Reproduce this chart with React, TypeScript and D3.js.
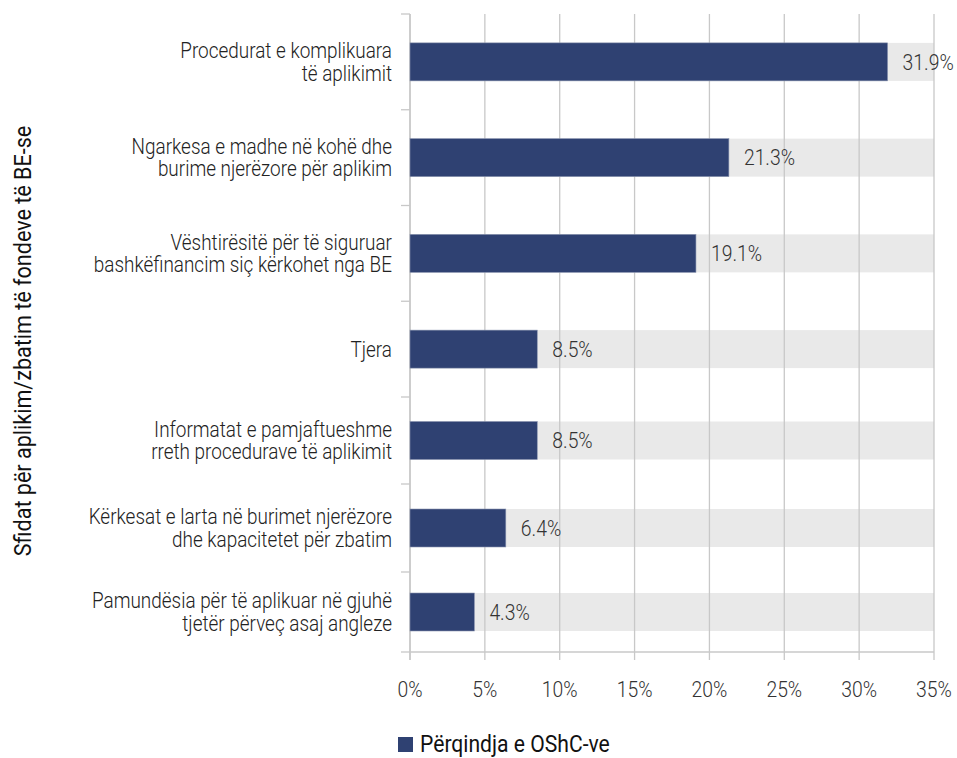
import React from "react";
import * as d3 from "d3";

const categories: string[][] = [
  ["Procedurat e komplikuara", "të aplikimit"],
  ["Ngarkesa e madhe në kohë dhe", "burime njerëzore për aplikim"],
  ["Vështirësitë për të siguruar", "bashkëfinancim siç kërkohet nga BE"],
  ["Tjera"],
  ["Informatat e pamjaftueshme", "rreth procedurave të aplikimit"],
  ["Kërkesat e larta në burimet njerëzore", "dhe kapacitetet për zbatim"],
  ["Pamundësia për të aplikuar në gjuhë", "tjetër përveç asaj angleze"],
];
const values: number[] = [31.9, 21.3, 19.1, 8.5, 8.5, 6.4, 4.3];
const xTicks: number[] = [0, 5, 10, 15, 20, 25, 30, 35];
const yTitle = "Sfidat për aplikim/zbatim të fondeve të BE-se";
const legendLabel = "Përqindja e OShC-ve";

const W = 957;
const H = 758;
const FONT = "Roboto, sans-serif";
const BAR = "#2f4172";
const SX = 0.88;

function T(props: {
  x: number;
  y: number;
  size: number;
  anchor?: string;
  weight?: number;
  fill?: string;
  rotate?: number;
  children: React.ReactNode;
}) {
  const { x, y, size, anchor = "start", weight = 300, fill = "#222", rotate = 0, children } = props;
  return (
    <g transform={`translate(${x},${y}) rotate(${rotate}) scale(${SX},1)`}>
      <text x={0} y={0} dy="0.35em" fontSize={size} fontWeight={weight} fill={fill} textAnchor={anchor}>
        {children}
      </text>
    </g>
  );
}

export default function App() {
  const x = d3.scaleLinear().domain([0, 35]).range([410, 934]);
  // band boundaries (index -> y)
  const yb = d3.scaleLinear().domain([0, 4, 5, 6, 7]).range([14, 397, 484, 572, 652]);
  const barH = 38;
  const lineH = 22.5;
  const y0 = yb(0);
  const y1 = yb(7);

  return (
    <svg width={W} height={H} style={{ position: "absolute", left: 0, top: 0, fontFamily: FONT }}>
      <rect width={W} height={H} fill="#fff" />
      {/* background bars */}
      {values.map((v, i) => {
        const c = (yb(i) + yb(i + 1)) / 2;
        return <rect key={"bg" + i} x={x(0)} y={c - barH / 2} width={x(35) - x(0)} height={barH} fill="#e9e9e9" />;
      })}
      {/* gridlines */}
      {xTicks.map((t) => (
        <line key={"g" + t} x1={x(t)} x2={x(t)} y1={y0} y2={y1 + 8} stroke="#c8c8c8" strokeWidth={1.3} />
      ))}
      {/* axes */}
      <line x1={x(0)} x2={x(0)} y1={y0} y2={y1 + 8} stroke="#c8c8c8" strokeWidth={1.5} />
      <line x1={x(0)} x2={x(35)} y1={y1} y2={y1} stroke="#c8c8c8" strokeWidth={1.5} />
      {d3.range(8).map((i) => (
        <line key={"yt" + i} x1={x(0) - 9} x2={x(0)} y1={yb(i)} y2={yb(i)} stroke="#c8c8c8" strokeWidth={1.3} />
      ))}
      {/* bars */}
      {values.map((v, i) => {
        const c = (yb(i) + yb(i + 1)) / 2;
        return (
          <g key={"b" + i}>
            <rect x={x(0)} y={c - barH / 2} width={x(v) - x(0)} height={barH} fill={BAR} stroke="#8a94b0" strokeWidth={0.6} />
            <T x={x(v) + 15} y={c} size={22} fill="#333">
              {v.toFixed(1) + "%"}
            </T>
          </g>
        );
      })}
      {/* category labels */}
      {categories.map((lines, i) => {
        const c = (yb(i) + yb(i + 1)) / 2;
        const start = c - ((lines.length - 1) * lineH) / 2;
        return (
          <g key={"c" + i} transform={`translate(392,${start}) scale(${SX},1)`}>
            <text fontSize={21.5} fontWeight={300} fill="#222" textAnchor="end">
              {lines.map((l, j) => (
                <tspan key={j} x={0} y={j * lineH} dy="0.35em">
                  {l}
                </tspan>
              ))}
            </text>
          </g>
        );
      })}
      {/* x tick labels */}
      {xTicks.map((t) => (
        <T key={"xl" + t} x={x(t)} y={689} size={22} anchor="middle" fill="#333">
          {t + "%"}
        </T>
      ))}
      {/* y title */}
      <T x={22} y={(y0 + y1) / 2 + 8} size={24.5} anchor="middle" weight={400} fill="#111" rotate={-90}>
        {yTitle}
      </T>
      {/* legend */}
      <rect x={398} y={737} width={15} height={15} fill={BAR} />
      <T x={420} y={744} size={24} weight={400} fill="#111">
        {legendLabel}
      </T>
    </svg>
  );
}
